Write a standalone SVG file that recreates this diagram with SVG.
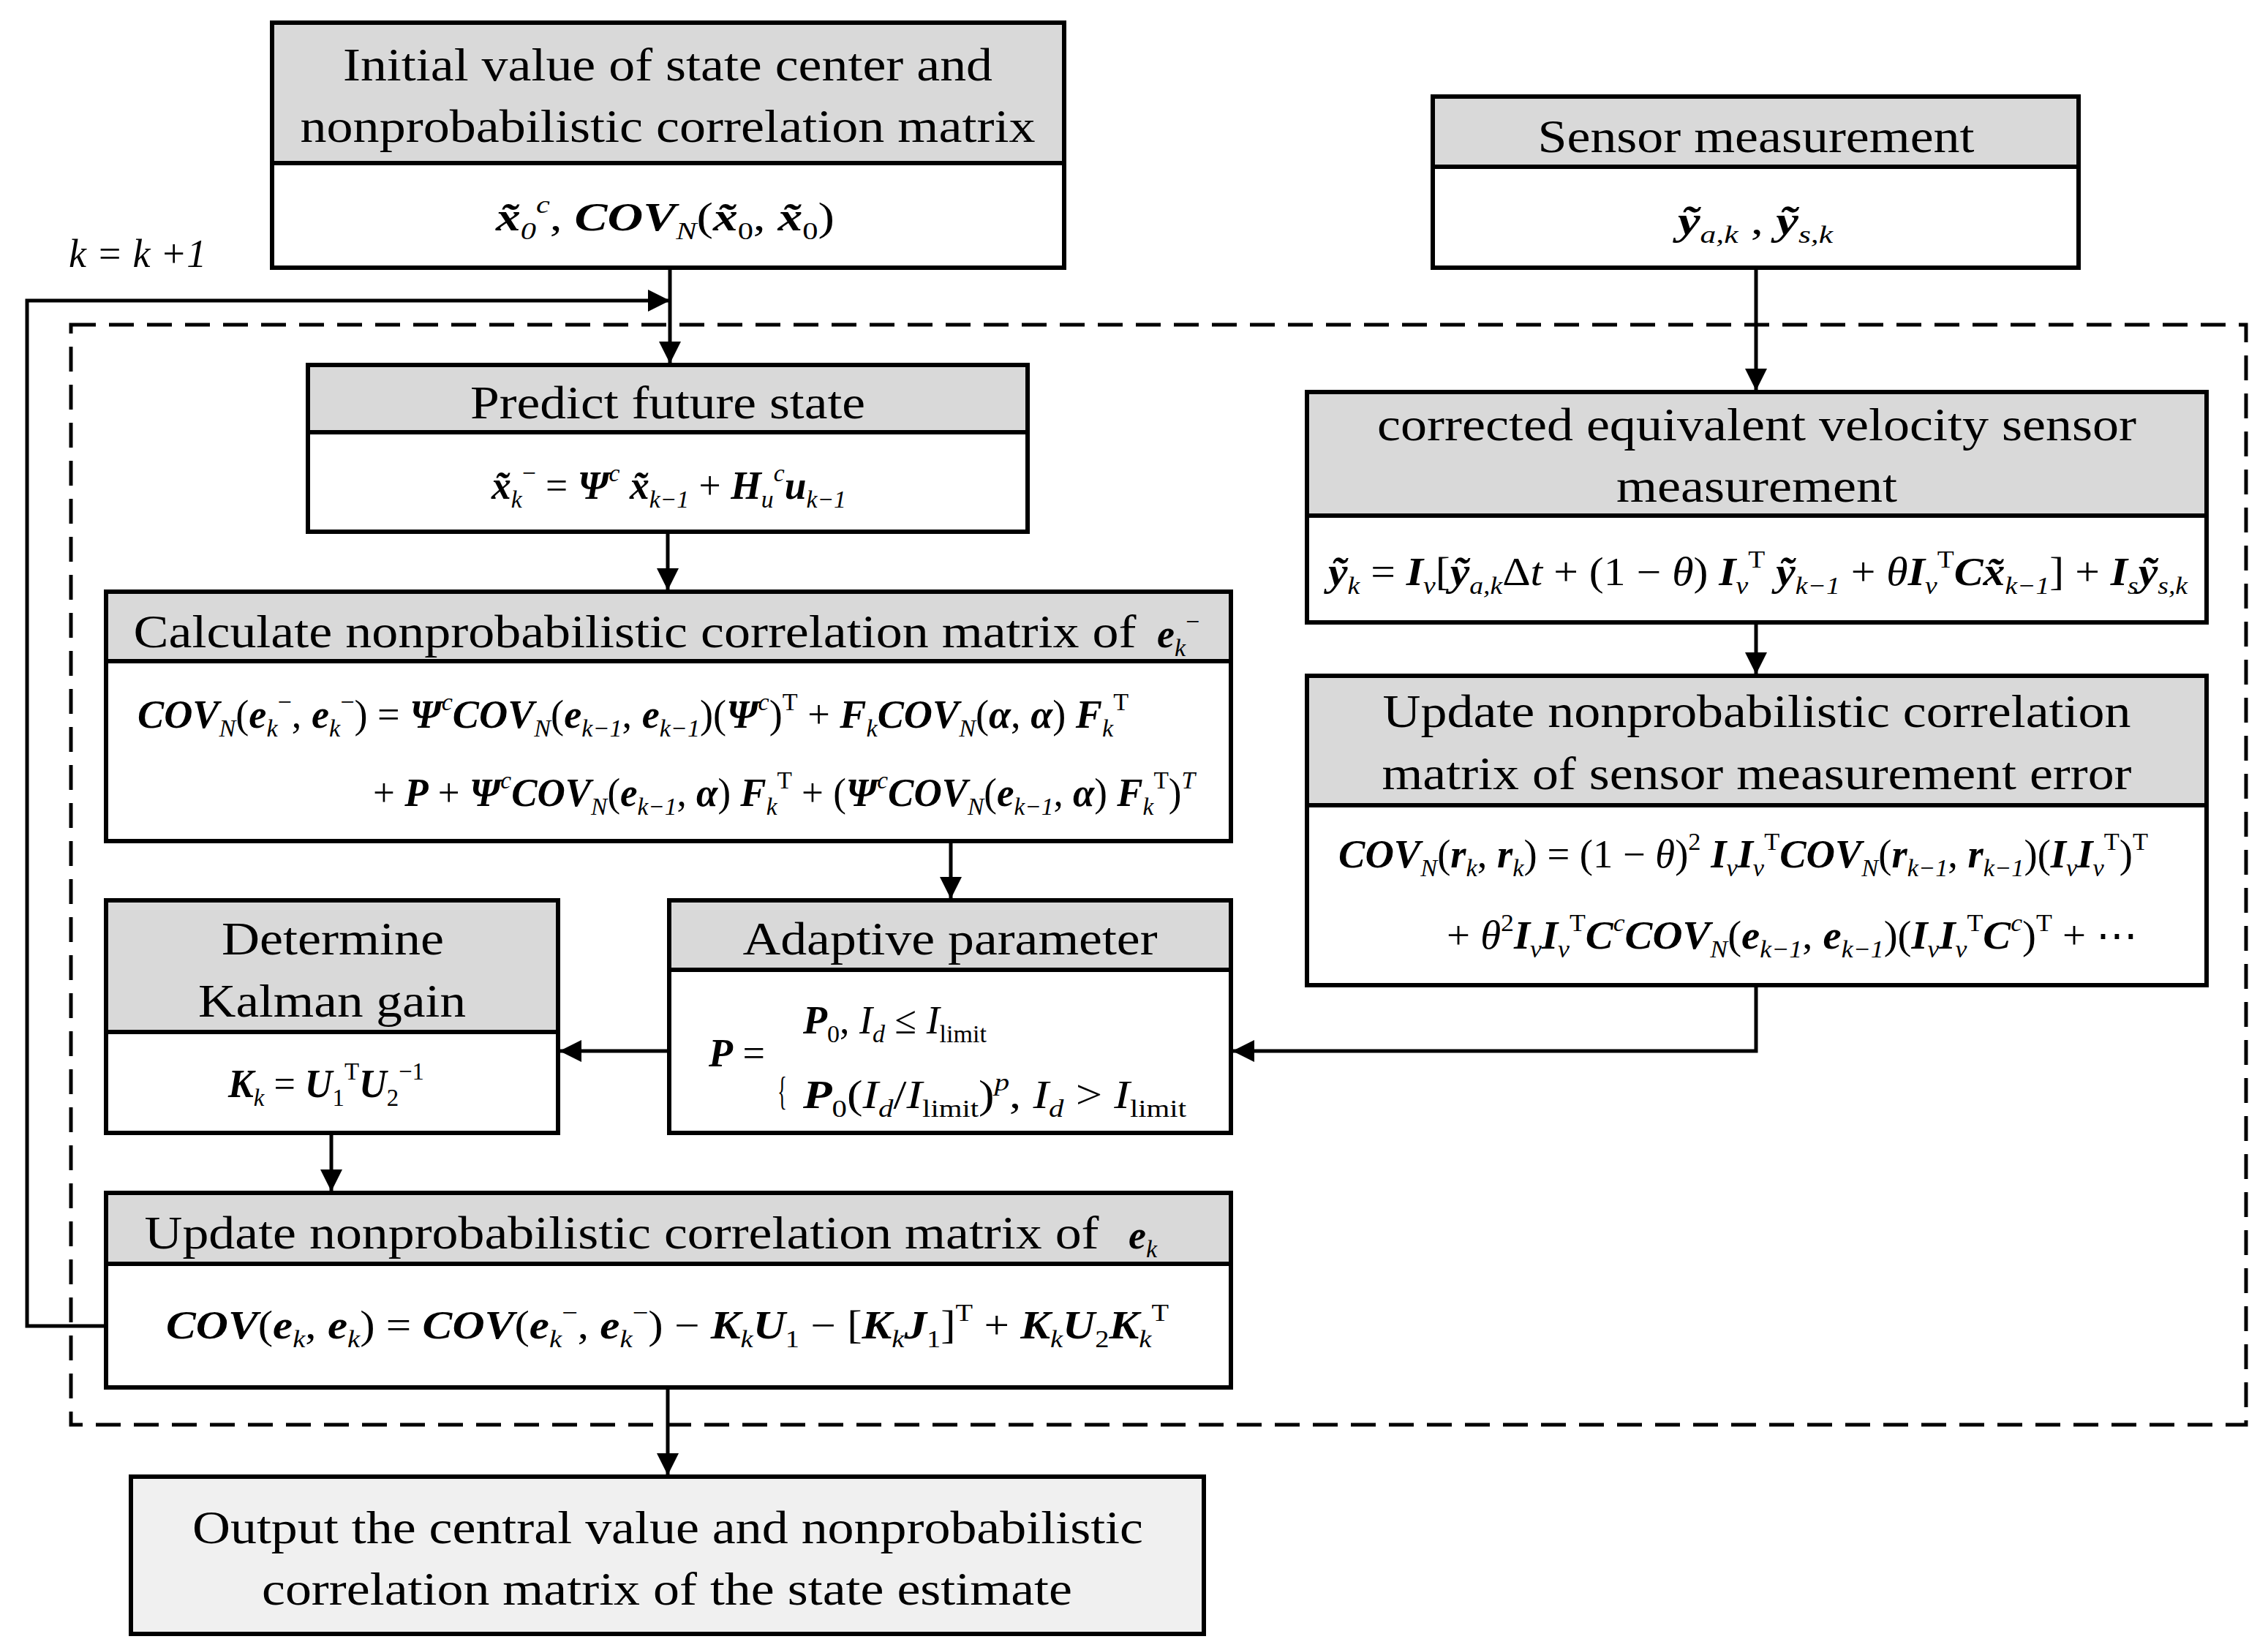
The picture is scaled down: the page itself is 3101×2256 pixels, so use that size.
<svg xmlns="http://www.w3.org/2000/svg" width="3101" height="2256" viewBox="0 0 3101 2256">
<style>
.box{fill:#fff;stroke:#000;stroke-width:6}
.hd{fill:#d9d9d9;stroke:#000;stroke-width:6}
.t{font-family:"Liberation Serif",serif;font-size:64px;fill:#000;text-anchor:middle}
.m{font-family:"Liberation Serif",serif;font-size:54px;fill:#000}
.b{font-weight:bold;font-style:italic}
.i{font-style:italic}
.sb{font-size:34px;baseline-shift:-12px}
.sp{font-size:34px;baseline-shift:24px}
.ln{fill:none;stroke:#000;stroke-width:5}
.ds{fill:none;stroke:#000;stroke-width:5;stroke-dasharray:34 18}
</style>
<defs><marker id="ar" markerWidth="10" markerHeight="10" refX="9" refY="5" orient="auto" markerUnits="userSpaceOnUse" viewBox="0 0 10 10"><path d="M0,0L10,5L0,10z"/></marker>
<marker id="a" viewBox="0 0 10 10" refX="10" refY="5" markerWidth="30" markerHeight="30" markerUnits="userSpaceOnUse" orient="auto"><path d="M0,0L10,5L0,10z" fill="#000"/></marker></defs>

<rect class="ds" x="97" y="444" width="2974" height="1504"/>

<g id="connectors">
<path class="ln" d="M916,366V497" marker-end="url(#a)"/>
<path class="ln" d="M145,1813H37V411H916" marker-end="url(#a)"/>
<path class="ln" d="M913,727V807" marker-end="url(#a)"/>
<path class="ln" d="M1300,1150V1229" marker-end="url(#a)"/>
<path class="ln" d="M915,1437H765" marker-end="url(#a)"/>
<path class="ln" d="M2401,366V534" marker-end="url(#a)"/>
<path class="ln" d="M2401,851V922" marker-end="url(#a)"/>
<path class="ln" d="M2401,1347V1437H1685" marker-end="url(#a)"/>
<path class="ln" d="M453,1549V1629" marker-end="url(#a)"/>
<path class="ln" d="M913,1897V2017" marker-end="url(#a)"/>
</g>

<text class="m i" x="94" y="365" font-size="58">k = k +1</text>

<g id="initial">
<rect class="box" x="372" y="31" width="1083" height="335"/>
<rect class="hd" x="372" y="31" width="1083" height="192"/>
<text class="t" x="913" y="110" textLength="888" lengthAdjust="spacingAndGlyphs">Initial value of state center and</text>
<text class="t" x="913" y="194" textLength="1005" lengthAdjust="spacingAndGlyphs">nonprobabilistic correlation matrix</text>
<text class="m" x="678" y="315" textLength="463" lengthAdjust="spacingAndGlyphs"><tspan class="b">x̃</tspan><tspan class="sb i">0</tspan><tspan class="sp i">c</tspan>, <tspan class="b">COV</tspan><tspan class="sb i">N</tspan>(<tspan class="b">x̃</tspan><tspan class="sb">0</tspan>, <tspan class="b">x̃</tspan><tspan class="sb">0</tspan>)</text>
</g>

<g id="sensor">
<rect class="box" x="1959" y="132" width="883" height="234"/>
<rect class="hd" x="1959" y="132" width="883" height="96"/>
<text class="t" x="2401" y="208" textLength="597" lengthAdjust="spacingAndGlyphs">Sensor measurement</text>
<text class="m" x="2294" y="320" textLength="212" lengthAdjust="spacingAndGlyphs"><tspan class="b">ỹ</tspan><tspan class="sb i">a,k</tspan> , <tspan class="b">ỹ</tspan><tspan class="sb i">s,k</tspan></text>
</g>

<g id="predict">
<rect class="box" x="421" y="499" width="984" height="228"/>
<rect class="hd" x="421" y="499" width="984" height="92"/>
<text class="t" x="913" y="572" textLength="540" lengthAdjust="spacingAndGlyphs">Predict future state</text>
<text class="m" x="672" y="682" textLength="485" lengthAdjust="spacingAndGlyphs"><tspan class="b">x̃</tspan><tspan class="sb i">k</tspan><tspan class="sp">−</tspan> = <tspan class="b">Ψ</tspan><tspan class="sp i">c</tspan> <tspan class="b">x̃</tspan><tspan class="sb i">k−1</tspan> + <tspan class="b">H</tspan><tspan class="sb i">u</tspan><tspan class="sp i">c</tspan><tspan class="b">u</tspan><tspan class="sb i">k−1</tspan></text>
</g>

<g id="calc">
<rect class="box" x="145" y="809" width="1538" height="341"/>
<rect class="hd" x="145" y="809" width="1538" height="95"/>
<text class="t" x="868" y="885" textLength="1371" lengthAdjust="spacingAndGlyphs">Calculate nonprobabilistic correlation matrix of</text>
<text class="m" x="1582" y="885"><tspan class="b">e</tspan><tspan class="sb i">k</tspan><tspan class="sp">−</tspan></text>
<text class="m" x="188" y="995" textLength="1355" lengthAdjust="spacingAndGlyphs"><tspan class="b">COV</tspan><tspan class="sb i">N</tspan>(<tspan class="b">e</tspan><tspan class="sb i">k</tspan><tspan class="sp">−</tspan>, <tspan class="b">e</tspan><tspan class="sb i">k</tspan><tspan class="sp">−</tspan>) = <tspan class="b">Ψ</tspan><tspan class="sp i">c</tspan><tspan class="b">COV</tspan><tspan class="sb i">N</tspan>(<tspan class="b">e</tspan><tspan class="sb i">k−1</tspan>, <tspan class="b">e</tspan><tspan class="sb i">k−1</tspan>)(<tspan class="b">Ψ</tspan><tspan class="sp i">c</tspan>)<tspan class="sp">T</tspan> + <tspan class="b">F</tspan><tspan class="sb i">k</tspan><tspan class="b">COV</tspan><tspan class="sb i">N</tspan>(<tspan class="b">α</tspan>, <tspan class="b">α</tspan>) <tspan class="b">F</tspan><tspan class="sb i">k</tspan><tspan class="sp">T</tspan></text>
<text class="m" x="510" y="1102" textLength="1124" lengthAdjust="spacingAndGlyphs">+ <tspan class="b">P</tspan> + <tspan class="b">Ψ</tspan><tspan class="sp i">c</tspan><tspan class="b">COV</tspan><tspan class="sb i">N</tspan>(<tspan class="b">e</tspan><tspan class="sb i">k−1</tspan>, <tspan class="b">α</tspan>) <tspan class="b">F</tspan><tspan class="sb i">k</tspan><tspan class="sp">T</tspan> + (<tspan class="b">Ψ</tspan><tspan class="sp i">c</tspan><tspan class="b">COV</tspan><tspan class="sb i">N</tspan>(<tspan class="b">e</tspan><tspan class="sb i">k−1</tspan>, <tspan class="b">α</tspan>) <tspan class="b">F</tspan><tspan class="sb i">k</tspan><tspan class="sp">T</tspan>)<tspan class="sp i">T</tspan></text>
</g>

<g id="corrected">
<rect class="box" x="1787" y="536" width="1230" height="315"/>
<rect class="hd" x="1787" y="536" width="1230" height="169"/>
<text class="t" x="2402" y="602" textLength="1038" lengthAdjust="spacingAndGlyphs">corrected equivalent velocity sensor</text>
<text class="t" x="2402" y="686" textLength="384" lengthAdjust="spacingAndGlyphs">measurement</text>
<text class="m" x="1816" y="800" textLength="1175" lengthAdjust="spacingAndGlyphs"><tspan class="b">ỹ</tspan><tspan class="sb i">k</tspan> = <tspan class="b">I</tspan><tspan class="sb i">v</tspan>[<tspan class="b">ỹ</tspan><tspan class="sb i">a,k</tspan>Δ<tspan class="i">t</tspan> + (1 − <tspan class="i">θ</tspan>) <tspan class="b">I</tspan><tspan class="sb i">v</tspan><tspan class="sp">T</tspan> <tspan class="b">ỹ</tspan><tspan class="sb i">k−1</tspan> + <tspan class="i">θ</tspan><tspan class="b">I</tspan><tspan class="sb i">v</tspan><tspan class="sp">T</tspan><tspan class="b">Cx̃</tspan><tspan class="sb i">k−1</tspan>] + <tspan class="b">I</tspan><tspan class="sb i">s</tspan><tspan class="b">ỹ</tspan><tspan class="sb i">s,k</tspan></text>
</g>

<g id="updsensor">
<rect class="box" x="1787" y="924" width="1230" height="423"/>
<rect class="hd" x="1787" y="924" width="1230" height="177"/>
<text class="t" x="2402" y="994" textLength="1023" lengthAdjust="spacingAndGlyphs">Update nonprobabilistic correlation</text>
<text class="t" x="2402" y="1079" textLength="1025" lengthAdjust="spacingAndGlyphs">matrix of sensor measurement error</text>
<text class="m" x="1830" y="1186" textLength="1107" lengthAdjust="spacingAndGlyphs"><tspan class="b">COV</tspan><tspan class="sb i">N</tspan>(<tspan class="b">r</tspan><tspan class="sb i">k</tspan>, <tspan class="b">r</tspan><tspan class="sb i">k</tspan>) = (1 − <tspan class="i">θ</tspan>)<tspan class="sp">2</tspan> <tspan class="b">I</tspan><tspan class="sb i">v</tspan><tspan class="b">I</tspan><tspan class="sb i">v</tspan><tspan class="sp">T</tspan><tspan class="b">COV</tspan><tspan class="sb i">N</tspan>(<tspan class="b">r</tspan><tspan class="sb i">k−1</tspan>, <tspan class="b">r</tspan><tspan class="sb i">k−1</tspan>)(<tspan class="b">I</tspan><tspan class="sb i">v</tspan><tspan class="b">I</tspan><tspan class="sb i">v</tspan><tspan class="sp">T</tspan>)<tspan class="sp">T</tspan></text>
<text class="m" x="1978" y="1297" textLength="945" lengthAdjust="spacingAndGlyphs">+ <tspan class="i">θ</tspan><tspan class="sp">2</tspan><tspan class="b">I</tspan><tspan class="sb i">v</tspan><tspan class="b">I</tspan><tspan class="sb i">v</tspan><tspan class="sp">T</tspan><tspan class="b">C</tspan><tspan class="sp i">c</tspan><tspan class="b">COV</tspan><tspan class="sb i">N</tspan>(<tspan class="b">e</tspan><tspan class="sb i">k−1</tspan>, <tspan class="b">e</tspan><tspan class="sb i">k−1</tspan>)(<tspan class="b">I</tspan><tspan class="sb i">v</tspan><tspan class="b">I</tspan><tspan class="sb i">v</tspan><tspan class="sp">T</tspan><tspan class="b">C</tspan><tspan class="sp i">c</tspan>)<tspan class="sp">T</tspan> + ⋯</text>
</g>

<g id="adaptive">
<rect class="box" x="915" y="1231" width="768" height="318"/>
<rect class="hd" x="915" y="1231" width="768" height="95"/>
<text class="t" x="1299" y="1305" textLength="567" lengthAdjust="spacingAndGlyphs">Adaptive parameter</text>
<text class="m" x="969" y="1458"><tspan class="b">P</tspan> =</text>
<text class="m" x="1063" y="1510" font-size="170" transform="translate(1063 1510) scale(0.5 1) translate(-1063 -1510)">{</text>
<text class="m" x="1098" y="1413"><tspan class="b">P</tspan><tspan class="sb">0</tspan>, <tspan class="i">I</tspan><tspan class="sb i">d</tspan> ≤ <tspan class="i">I</tspan><tspan class="sb">limit</tspan></text>
<text class="m" x="1098" y="1515" textLength="524" lengthAdjust="spacingAndGlyphs"><tspan class="b">P</tspan><tspan class="sb">0</tspan>(<tspan class="i">I</tspan><tspan class="sb i">d</tspan>/<tspan class="i">I</tspan><tspan class="sb">limit</tspan>)<tspan class="sp i">p</tspan>, <tspan class="i">I</tspan><tspan class="sb i">d</tspan> &gt; <tspan class="i">I</tspan><tspan class="sb">limit</tspan></text>
</g>

<g id="kalman">
<rect class="box" x="145" y="1231" width="618" height="318"/>
<rect class="hd" x="145" y="1231" width="618" height="180"/>
<text class="t" x="455" y="1305" textLength="304" lengthAdjust="spacingAndGlyphs">Determine</text>
<text class="t" x="454" y="1390" textLength="366" lengthAdjust="spacingAndGlyphs">Kalman gain</text>
<text class="m" x="312" y="1500" textLength="268" lengthAdjust="spacingAndGlyphs"><tspan class="b">K</tspan><tspan class="sb i">k</tspan> = <tspan class="b">U</tspan><tspan class="sb">1</tspan><tspan class="sp">T</tspan><tspan class="b">U</tspan><tspan class="sb">2</tspan><tspan class="sp">−1</tspan></text>
</g>

<g id="update">
<rect class="box" x="145" y="1631" width="1538" height="266"/>
<rect class="hd" x="145" y="1631" width="1538" height="97"/>
<text class="t" x="850" y="1707" textLength="1305" lengthAdjust="spacingAndGlyphs">Update nonprobabilistic correlation matrix of</text>
<text class="m" x="1543" y="1707"><tspan class="b">e</tspan><tspan class="sb i">k</tspan></text>
<text class="m" x="227" y="1830" textLength="1371" lengthAdjust="spacingAndGlyphs"><tspan class="b">COV</tspan>(<tspan class="b">e</tspan><tspan class="sb i">k</tspan>, <tspan class="b">e</tspan><tspan class="sb i">k</tspan>) = <tspan class="b">COV</tspan>(<tspan class="b">e</tspan><tspan class="sb i">k</tspan><tspan class="sp">−</tspan>, <tspan class="b">e</tspan><tspan class="sb i">k</tspan><tspan class="sp">−</tspan>) − <tspan class="b">K</tspan><tspan class="sb i">k</tspan><tspan class="b">U</tspan><tspan class="sb">1</tspan> − [<tspan class="b">K</tspan><tspan class="sb i">k</tspan><tspan class="b">J</tspan><tspan class="sb">1</tspan>]<tspan class="sp">T</tspan> + <tspan class="b">K</tspan><tspan class="sb i">k</tspan><tspan class="b">U</tspan><tspan class="sb">2</tspan><tspan class="b">K</tspan><tspan class="sb i">k</tspan><tspan class="sp">T</tspan></text>
</g>

<g id="output">
<rect class="box" x="179" y="2019" width="1467" height="215" style="fill:#f0f0f0"/>
<text class="t" x="913" y="2110" textLength="1300" lengthAdjust="spacingAndGlyphs">Output the central value and nonprobabilistic</text>
<text class="t" x="912" y="2194" textLength="1108" lengthAdjust="spacingAndGlyphs">correlation matrix of the state estimate</text>
</g>
</svg>
